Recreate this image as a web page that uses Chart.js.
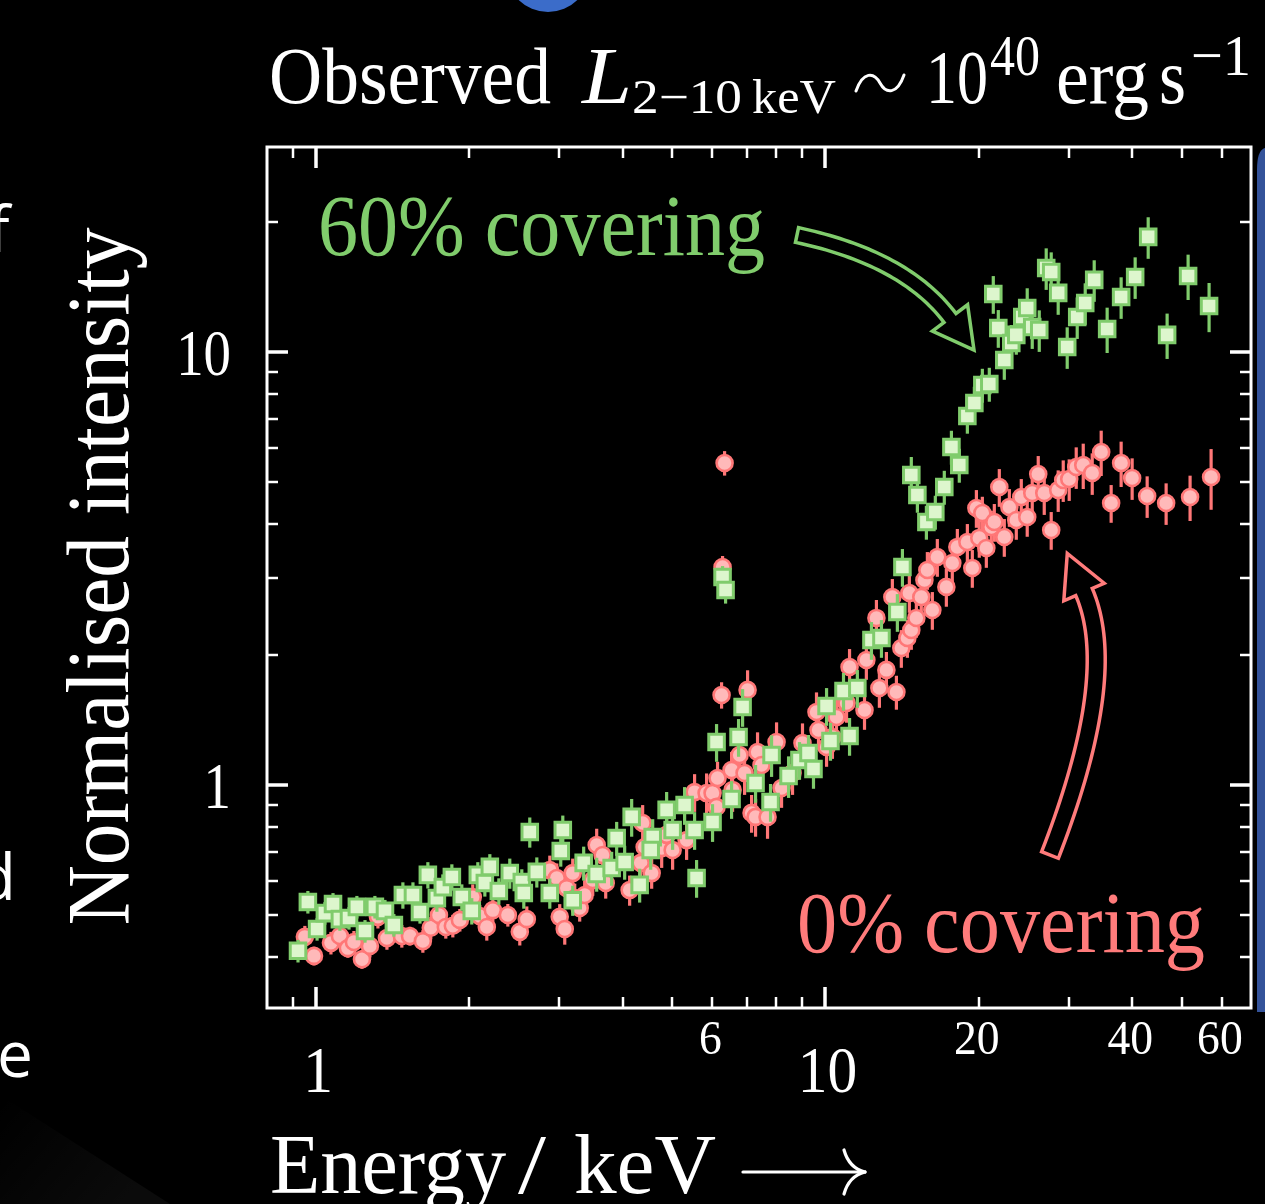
<!DOCTYPE html>
<html><head><meta charset="utf-8">
<script src="https://cdn.jsdelivr.net/npm/chart.js@4.4.1/dist/chart.umd.min.js"></script>
<style>html,body{margin:0;padding:0;background:#000;overflow:hidden}#wrap{position:relative;width:1265px;height:1204px}canvas{display:block}</style>
</head><body><div id="wrap"><canvas id="c" width="1265" height="1204"></canvas></div>
<script>
// ---------- data ----------
const energyRed = [0.951,0.991,1.070,1.114,1.155,1.187,1.231,1.276,1.323,1.378,
1.474,1.529,1.621,1.680,1.743,1.798,1.856,1.916,2.031,2.097,
2.164,2.224,2.380,2.512,2.593,2.877,2.969,3.009,3.078,3.106,
3.191,3.220,3.293,3.368,3.493,3.556,3.653,3.704,4.127,4.377,
4.417,4.338,4.559,4.770,4.878,5.012,5.339,5.535,5.843,6.003,
6.113,6.140,6.253,6.281,6.339,6.542,6.572,6.783,6.938,7.033,
7.161,7.357,7.291,7.491,7.697,8.017,8.200,8.617,9.014,9.603,
9.690,10.05,10.32,10.51,11.00,11.15,11.93,12.03,12.59,12.76,
13.17,13.53,13.78,14.09,14.48,14.61,14.74,15.08,15.42,15.64,
15.85,16.21,16.58,17.27,17.74,18.15,18.99,19.42,19.78,20.04,
20.32,20.69,21.16,21.45,21.94,22.44,22.96,23.69,24.23,24.89,
25.46,26.16,26.88,27.74,28.63,29.29,30.09,31.06,32.06,33.39,
34.77,36.37,38.05,39.99,42.80,46.63,51.96,57.14];
const intensityRed = [0.446,0.403,0.432,0.448,0.420,0.434,0.396,0.425,0.496,0.443,
0.448,0.448,0.436,0.468,0.501,0.470,0.473,0.488,0.551,0.498,
0.470,0.514,0.501,0.458,0.490,0.636,0.610,0.496,0.465,0.578,
0.626,0.548,0.520,0.557,0.603,0.727,0.689,0.594,0.572,0.817,
0.719,0.661,0.626,0.715,0.767,0.708,0.746,0.963,0.958,0.958,
0.890,1.038,1.614,3.188,5.542,1.083,0.974,1.173,1.066,1.658,
0.862,1.192,0.844,1.112,0.844,1.257,0.984,1.066,1.250,1.474,
1.340,1.224,1.291,1.436,1.547,1.873,1.490,1.944,2.431,1.675,
1.844,2.718,1.640,2.072,2.185,2.776,2.280,2.431,2.718,2.974,
3.137,2.536,3.362,2.867,3.256,3.546,3.641,3.171,4.362,3.720,
4.248,3.526,3.943,4.050,4.877,3.739,4.385,4.093,4.625,4.159,
4.724,5.227,4.724,3.881,4.800,5.062,5.089,5.425,5.483,5.255,
5.875,4.480,5.542,5.117,4.650,4.480,4.625,5.144];
const relErrRed = [0.06,0.05,0.06,0.06,0.05,0.06,0.05,0.06,0.06,0.06,
0.06,0.05,0.06,0.06,0.06,0.06,0.06,0.06,0.07,0.06,
0.07,0.07,0.06,0.07,0.07,0.08,0.08,0.07,0.08,0.08,
0.08,0.08,0.07,0.08,0.08,0.09,0.08,0.08,0.08,0.10,
0.09,0.09,0.08,0.10,0.09,0.10,0.10,0.10,0.11,0.10,
0.10,0.09,0.07,0.06,0.065,0.10,0.11,0.10,0.11,0.11,
0.10,0.11,0.10,0.11,0.11,0.11,0.10,0.11,0.11,0.11,
0.10,0.10,0.11,0.10,0.10,0.10,0.10,0.10,0.10,0.10,
0.10,0.10,0.09,0.10,0.10,0.10,0.10,0.10,0.10,0.10,
0.10,0.10,0.10,0.10,0.10,0.10,0.10,0.10,0.10,0.10,
0.09,0.10,0.09,0.10,0.10,0.10,0.10,0.10,0.10,0.10,
0.11,0.10,0.11,0.10,0.11,0.11,0.11,0.11,0.12,0.11,
0.12,0.10,0.12,0.11,0.11,0.11,0.12,0.16];

const energyGreen = [0.922,0.964,1.005,1.041,1.080,1.114,1.161,1.203,1.248,1.305,
1.366,1.422,1.481,1.550,1.600,1.658,1.727,1.774,1.848,1.933,
2.022,2.078,2.145,2.194,2.285,2.401,2.535,2.558,2.628,2.713,
2.877,3.051,3.023,3.191,3.353,3.556,3.805,3.892,4.035,4.165,
4.318,4.580,4.539,4.878,5.012,5.291,5.535,5.585,6.003,6.113,
6.281,6.367,6.542,6.752,6.876,7.291,7.802,7.838,8.464,8.892,
9.262,9.473,10.05,10.23,10.85,11.15,11.55,12.31,12.88,13.84,
14.16,14.74,15.15,15.78,16.43,17.11,17.67,18.31,18.99,19.60,
20.32,20.97,21.35,21.84,22.44,23.16,23.69,24.34,24.89,25.46,
26.28,27.12,27.74,28.63,29.82,31.20,32.35,33.69,35.72,38.05,
40.54,43.00,46.84,51.50,56.62];
const intensityGreen = [0.414,0.537,0.465,0.506,0.531,0.490,0.493,0.523,0.460,0.523,
0.512,0.475,0.557,0.557,0.509,0.620,0.548,0.581,0.613,0.551,
0.512,0.620,0.594,0.647,0.569,0.626,0.597,0.563,0.779,0.630,
0.563,0.787,0.704,0.542,0.661,0.623,0.643,0.754,0.664,0.844,
0.588,0.758,0.708,0.876,0.787,0.899,0.787,0.610,0.821,1.257,
3.022,2.821,0.928,1.291,1.514,1.011,0.914,1.173,1.049,1.142,
1.186,1.089,1.522,1.264,1.649,1.298,1.675,2.162,2.185,2.509,
3.188,5.200,4.674,4.050,4.271,4.877,6.034,5.483,7.116,7.625,
8.389,8.434,13.61,11.36,9.583,10.49,10.95,12.04,12.64,11.42,
11.24,15.63,15.30,13.69,10.27,12.04,12.98,14.67,11.30,13.40,
14.90,18.44,10.95,14.98,12.77];
const relErrGreen = [0.06,0.06,0.06,0.06,0.06,0.06,0.06,0.06,0.06,0.06,
0.06,0.06,0.07,0.07,0.06,0.07,0.07,0.07,0.07,0.07,
0.07,0.07,0.07,0.07,0.07,0.08,0.07,0.08,0.08,0.08,
0.08,0.08,0.08,0.08,0.09,0.09,0.09,0.09,0.09,0.10,
0.09,0.10,0.10,0.10,0.10,0.10,0.10,0.10,0.10,0.10,
0.06,0.07,0.10,0.10,0.10,0.10,0.10,0.11,0.11,0.10,
0.10,0.10,0.10,0.10,0.10,0.10,0.10,0.10,0.10,0.10,
0.10,0.10,0.09,0.09,0.09,0.09,0.09,0.09,0.09,0.09,
0.09,0.09,0.10,0.10,0.10,0.10,0.10,0.10,0.11,0.11,
0.11,0.11,0.11,0.11,0.11,0.11,0.11,0.11,0.12,0.11,
0.11,0.11,0.12,0.12,0.13];

const xMajorTicks = [1, 10];
const xMinorTicks = [0.9, 2, 3, 4, 5, 6, 7, 8, 9, 20, 30, 40, 50, 60];
const xMinorLabels = [6, 20, 40, 60];
const yMajorTicks = [1, 10];
const yMinorTicks = [0.4, 0.5, 0.6, 0.7, 0.8, 0.9, 2, 3, 4, 5, 6, 7, 8, 9, 20];
const xRange = [0.8014, 68.43];
const yRange = [0.3055, 29.74];

// ---------- styles ----------
const RED_EDGE = '#ff7777', RED_FILL = '#ffb9b9';
const GREEN_EDGE = '#80cc6c', GREEN_FILL = '#ddf6cd';
const SERIF = '"Liberation Serif","DejaVu Serif",serif';

function pts(ex, iy, er) { return ex.map((e, i) => ({x: e, y: iy[i], e: er[i]})); }

function fitText(ctx, txt, x, y, size, color, targetW, italic) {
  ctx.save();
  ctx.font = (italic ? 'italic ' : '') + size + 'px ' + SERIF;
  ctx.fillStyle = color; ctx.textBaseline = 'alphabetic'; ctx.textAlign = 'left';
  const w = ctx.measureText(txt).width;
  const s = targetW ? targetW / w : 1;
  ctx.translate(x, y); ctx.scale(s, 1); ctx.fillText(txt, 0, 0);
  ctx.restore();
}
function condText(ctx, txt, x, y, size, color, sx, align) {
  ctx.save();
  ctx.font = size + 'px ' + SERIF; ctx.fillStyle = color;
  ctx.textBaseline = 'alphabetic'; ctx.textAlign = align;
  ctx.translate(x, y); ctx.scale(sx, 1); ctx.fillText(txt, 0, 0);
  ctx.restore();
}
function hollowArrow(ctx, p0, c, p2, bodyW, headW, headL, color, lw) {
  const N = 40, L = [], R = [];
  for (let i = 0; i <= N; i++) {
    const t = i / N;
    const x = (1-t)*(1-t)*p0[0] + 2*(1-t)*t*c[0] + t*t*p2[0];
    const y = (1-t)*(1-t)*p0[1] + 2*(1-t)*t*c[1] + t*t*p2[1];
    const dx = 2*(1-t)*(c[0]-p0[0]) + 2*t*(p2[0]-c[0]);
    const dy = 2*(1-t)*(c[1]-p0[1]) + 2*t*(p2[1]-c[1]);
    const len = Math.hypot(dx, dy), nx = -dy/len, ny = dx/len;
    L.push([x + nx*bodyW/2, y + ny*bodyW/2]);
    R.push([x - nx*bodyW/2, y - ny*bodyW/2]);
  }
  let tx = p2[0]-c[0], ty = p2[1]-c[1]; const tl = Math.hypot(tx, ty); tx /= tl; ty /= tl;
  const nx = -ty, ny = tx;
  ctx.save();
  ctx.strokeStyle = color; ctx.lineWidth = lw; ctx.lineJoin = 'miter';
  ctx.beginPath();
  ctx.moveTo(L[0][0], L[0][1]);
  for (let i = 1; i <= N; i++) ctx.lineTo(L[i][0], L[i][1]);
  ctx.lineTo(p2[0] + nx*headW/2, p2[1] + ny*headW/2);
  ctx.lineTo(p2[0] + tx*headL, p2[1] + ty*headL);
  ctx.lineTo(p2[0] - nx*headW/2, p2[1] - ny*headW/2);
  for (let i = N; i >= 0; i--) ctx.lineTo(R[i][0], R[i][1]);
  ctx.closePath(); ctx.stroke();
  ctx.restore();
}

const decor = {
  id: 'decor',
  beforeDraw(chart) {
    const ctx = chart.ctx;
    ctx.save();
    ctx.fillStyle = '#000'; ctx.fillRect(0, 0, chart.width, chart.height);
    const g = ctx.createLinearGradient(0, 1100, 120, 1204);
    g.addColorStop(0, 'rgba(255,255,255,0.0)'); g.addColorStop(1, 'rgba(255,255,255,0.045)');
    ctx.fillStyle = g; ctx.beginPath(); ctx.moveTo(0, 1095); ctx.lineTo(170, 1204); ctx.lineTo(0, 1204); ctx.closePath(); ctx.fill();
    ctx.fillStyle = '#3b6cc9'; ctx.beginPath(); ctx.arc(548, -30, 42, 0, Math.PI*2); ctx.fill();
    ctx.fillStyle = '#34539a'; ctx.beginPath();
    ctx.moveTo(1257, 1012); ctx.lineTo(1257, 170); ctx.quadraticCurveTo(1257, 150, 1265, 148); ctx.lineTo(1265, 1012); ctx.closePath(); ctx.fill();
    ctx.fillStyle = '#fff'; ctx.font = '64px "Open Sans", sans-serif'; ctx.textBaseline = 'alphabetic';
    ctx.textAlign = 'left'; ctx.fillText('f', -12, 252);
    ctx.textAlign = 'right'; ctx.fillText('d', 16, 900); ctx.fillText('e', 33, 1077);
    ctx.restore();
  },
  beforeDatasetDraw(chart, args) {
    const ds = chart.data.datasets[args.index];
    const ctx = chart.ctx, xs = chart.scales.x, ys = chart.scales.y, a = chart.chartArea;
    ctx.save();
    ctx.beginPath(); ctx.rect(a.left, a.top, a.right - a.left, a.bottom - a.top); ctx.clip();
    ctx.strokeStyle = ds.errColor; ctx.lineWidth = 3.2;
    ds.data.forEach(p => {
      const x = xs.getPixelForValue(p.x);
      ctx.beginPath();
      ctx.moveTo(x, ys.getPixelForValue(p.y * (1 - p.e)));
      ctx.lineTo(x, ys.getPixelForValue(p.y * (1 + p.e)));
      ctx.stroke();
    });
    ctx.restore();
  },
  afterDraw(chart) {
    const ctx = chart.ctx, xs = chart.scales.x, ys = chart.scales.y, a = chart.chartArea;
    ctx.save();
    ctx.strokeStyle = '#fff'; ctx.lineWidth = 3;
    ctx.strokeRect(a.left, a.top, a.right - a.left, a.bottom - a.top);
    const tick = (vals, len, w) => {
      ctx.lineWidth = w;
      vals.forEach(v => {
        const x = Math.round(xs.getPixelForValue(v));
        ctx.beginPath(); ctx.moveTo(x, a.bottom); ctx.lineTo(x, a.bottom - len); ctx.stroke();
        ctx.beginPath(); ctx.moveTo(x, a.top); ctx.lineTo(x, a.top + len); ctx.stroke();
      });
    };
    const ytick = (vals, len, w) => {
      ctx.lineWidth = w;
      vals.forEach(v => {
        const y = Math.round(ys.getPixelForValue(v));
        ctx.beginPath(); ctx.moveTo(a.left, y); ctx.lineTo(a.left + len, y); ctx.stroke();
        ctx.beginPath(); ctx.moveTo(a.right, y); ctx.lineTo(a.right - len, y); ctx.stroke();
      });
    };
    tick(xMajorTicks, 21, 3.5); tick(xMinorTicks, 11, 2.5);
    ytick(yMajorTicks, 21, 3.5); ytick(yMinorTicks, 11, 2.5);
    xMajorTicks.forEach(v => condText(ctx, String(v), xs.getPixelForValue(v) + 2, 1092, 66, '#fff', 0.9, 'center'));
    xMinorLabels.forEach(v => condText(ctx, String(v), xs.getPixelForValue(v) - 2, 1054, 48, '#fff', 0.95, 'center'));
    yMajorTicks.forEach(v => condText(ctx, String(v), 231, ys.getPixelForValue(v) + 23, 66, '#fff', 0.83, 'right'));
    ctx.save();
    ctx.translate(128, (a.top + a.bottom) / 2 - 1); ctx.rotate(-Math.PI / 2);
    fitText(ctx, 'Normalised intensity', -349, 0, 88, '#fff', 698);
    ctx.restore();
    fitText(ctx, 'Energy', 270, 1193, 84, '#fff', 236);
    fitText(ctx, '/', 518, 1193, 84, '#fff', 28);
    fitText(ctx, 'keV', 574, 1193, 84, '#fff', 142);
    ctx.strokeStyle = '#fff'; ctx.lineWidth = 3.2; ctx.lineCap = 'round';
    ctx.beginPath(); ctx.moveTo(743, 1172); ctx.lineTo(863, 1172); ctx.stroke();
    ctx.beginPath(); ctx.moveTo(844, 1150); ctx.quadraticCurveTo(849, 1168, 865, 1172); ctx.stroke();
    ctx.beginPath(); ctx.moveTo(844, 1194); ctx.quadraticCurveTo(849, 1176, 865, 1172); ctx.stroke();
    fitText(ctx, 'Observed', 269, 103, 80, '#fff', 282);
    fitText(ctx, 'L', 582, 103, 80, '#fff', 50, true);
    fitText(ctx, '2\u221210', 632, 113, 48, '#fff', 110);
    fitText(ctx, 'keV', 752, 113, 48, '#fff', 84);
    ctx.lineWidth = 3; ctx.lineCap = 'round';
    ctx.beginPath(); ctx.moveTo(856, 91); ctx.bezierCurveTo(863, 71, 874, 72, 880, 83); ctx.bezierCurveTo(886, 94, 897, 95, 904, 75); ctx.stroke();
    fitText(ctx, '10', 926, 103, 76, '#fff', 62);
    fitText(ctx, '40', 990, 75, 58, '#fff', 50);
    fitText(ctx, 'erg', 1056, 103, 78, '#fff', 93);
    fitText(ctx, 's', 1159, 103, 78, '#fff', 27);
    fitText(ctx, '\u22121', 1191, 75, 58, '#fff', 60);
    fitText(ctx, '60% covering', 318, 255, 86, GREEN_EDGE, 447);
    fitText(ctx, '0% covering', 797, 952, 86, '#ff7b7b', 408);
    hollowArrow(ctx, [797, 235], [905, 258], [950, 318], 15, 44, 40, GREEN_EDGE, 3.5);
    hollowArrow(ctx, [1050, 855], [1120, 675], [1084, 592], 18, 44, 42, '#ff7b7b', 3.5);
    ctx.restore();
  }
};

new Chart(document.getElementById('c'), {
  type: 'scatter',
  data: { datasets: [
    { label: '0% covering', data: pts(energyRed, intensityRed, relErrRed), order: 1,
      pointStyle: 'circle', pointRadius: 8, borderWidth: 2.6, pointBorderWidth: 2.6,
      backgroundColor: RED_FILL, borderColor: RED_EDGE, pointBackgroundColor: RED_FILL, pointBorderColor: RED_EDGE,
      errColor: RED_EDGE, showLine: false },
    { label: '60% covering', data: pts(energyGreen, intensityGreen, relErrGreen), order: 0,
      pointStyle: 'rect', pointRadius: 11, borderWidth: 3, pointBorderWidth: 3,
      backgroundColor: GREEN_FILL, borderColor: GREEN_EDGE, pointBackgroundColor: GREEN_FILL, pointBorderColor: GREEN_EDGE,
      errColor: GREEN_EDGE, showLine: false }
  ]},
  options: {
    responsive: false, animation: false, devicePixelRatio: 1, events: [],
    layout: { padding: { left: 267, right: 13, top: 147, bottom: 196 } },
    plugins: { legend: { display: false }, tooltip: { enabled: false }, title: { display: false } },
    scales: {
      x: { type: 'logarithmic', min: xRange[0], max: xRange[1], bounds: 'data', display: false },
      y: { type: 'logarithmic', min: yRange[0], max: yRange[1], bounds: 'data', display: false }
    }
  },
  plugins: [decor]
});
</script></body></html>
